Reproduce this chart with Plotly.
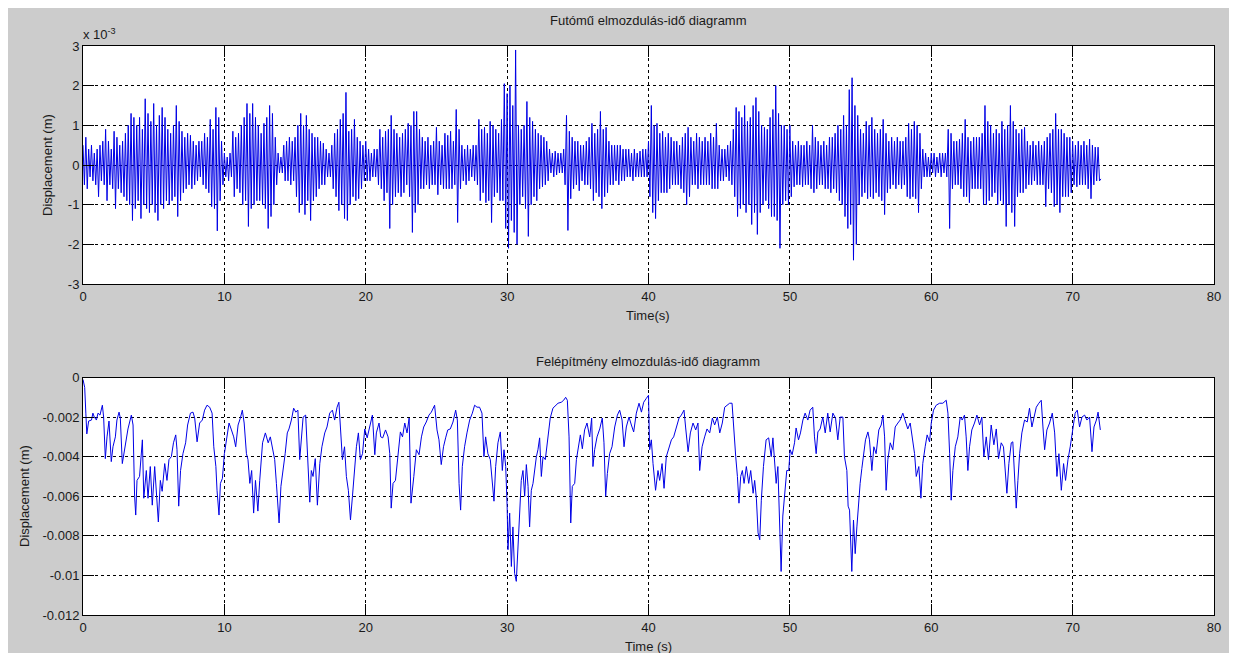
import plotly.graph_objects as go

# ---------------- DATA ----------------
top_disp_e3 = [
    0.5, -0.5, 0.7, -0.6, 0.4, -0.3, 0.5, -0.4, 0.3, -0.5,
    0.4, -0.8, 0.5, -0.4, 0.6, -0.5, 0.9, -0.9, 0.6, -0.5,
    0.4, -0.6, 0.85, -1.1, 0.7, -0.6, 0.5, -0.7, 0.6, -0.8,
    0.8, -0.9, 1.0, -1.0, 1.3, -1.4, 1.2, -1.1, 1.0, -0.9,
    1.2, -1.35, 0.9, -1.0, 1.67, -1.1, 1.3, -1.2, 1.1, -1.0,
    1.55, -1.2, 1.0, -1.4, 1.25, -1.0, 1.45, -1.1, 1.2, -0.9,
    0.9, -1.0, 0.8, -0.9, 1.0, -0.8, 1.5, -1.3, 1.1, -0.9,
    0.85, -0.7, 0.7, -0.6, 0.8, -0.5, 0.75, -0.6, 0.6, -0.5,
    0.5, -0.4, 0.6, -0.3, 0.6, -0.5, 0.8, -0.6, 0.7, -0.7,
    1.15, -1.05, 0.9, -1.1, 1.45, -1.66, 1.2, -0.9, 0.6, -0.5,
    0.3, -0.3, 0.2, -0.4, 0.3, -0.3, 0.85, -0.8, 0.7, -0.6,
    0.8, -0.7, 1.0, -1.0, 1.2, -0.9, 1.55, -1.55, 1.3, -1.1,
    1.55, -1.0, 1.2, -0.9, 1.0, -0.9, 0.8, -1.0, 1.05, -1.1,
    1.2, -1.6, 1.5, -1.3, 1.3, -1.0, 0.7, -0.5, 0.3, -0.2,
    0.2, -0.2, 0.5, -0.4, 0.6, -0.4, 0.7, -0.5, 0.6, -0.4,
    0.7, -0.8, 1.0, -1.2, 1.3, -1.0, 1.0, -1.25, 1.25, -0.9,
    0.9, -1.4, 0.8, -0.9, 0.7, -0.8, 0.7, -0.6, 0.6, -0.5,
    0.55, -0.5, 0.4, -0.3, 0.3, -0.3, 0.5, -0.6, 0.8, -0.8,
    0.9, -1.15, 1.15, -1.0, 1.3, -1.35, 1.83, -1.4, 0.85, -1.0,
    0.9, -0.8, 1.15, -0.9, 0.7, -0.85, 0.6, -0.6, 0.5, -0.4,
    0.6, -0.4, 0.4, -0.4, 0.3, -0.3, 0.4, -0.3, 0.4, -0.5,
    0.9, -0.6, 0.7, -0.9, 0.85, -0.7, 0.9, -1.6, 1.25, -1.0,
    0.9, -0.8, 0.8, -0.7, 0.7, -0.8, 0.8, -0.7, 0.9, -0.5,
    1.05, -0.8, 1.0, -1.7, 1.35, -1.2, 1.35, -1.0, 0.9, -0.6,
    0.7, -0.6, 0.6, -0.5, 0.7, -0.6, 0.5, -0.5, 0.6, -0.5,
    0.95, -0.75, 0.6, -0.5, 0.5, -0.6, 0.8, -0.6, 0.75, -0.6,
    0.85, -0.6, 0.6, -0.5, 1.4, -1.45, 0.9, -0.6, 0.5, -0.4,
    0.4, -0.5, 0.5, -0.4, 0.4, -0.3, 0.5, -0.4, 0.5, -0.5,
    1.15, -0.9, 0.9, -0.7, 0.95, -0.95, 0.8, -0.9, 1.1, -1.45,
    1.0, -0.8, 0.9, -0.7, 0.8, -0.9, 1.15, -0.9, 2.05, -1.6,
    1.8, -2.1, 2.0, -1.4, 1.5, -1.7, 2.9, -2.0, 1.0, -1.0,
    0.9, -0.8, 1.0, -1.1, 1.6, -1.8, 1.2, -1.0, 1.1, -0.8,
    0.9, -0.9, 0.8, -0.6, 0.75, -0.55, 0.7, -0.5, 0.6, -0.4,
    0.4, -0.2, 0.3, -0.3, 0.35, -0.25, 0.3, -0.2, 0.3, -0.2,
    0.4, -0.5, 1.25, -1.65, 0.85, -0.85, 0.7, -0.6, 0.6, -0.5,
    0.6, -0.65, 0.5, -0.4, 0.5, -0.5, 0.6, -0.5, 0.7, -0.6,
    1.05, -0.9, 0.8, -0.7, 0.9, -0.8, 1.35, -1.1, 0.9, -0.8,
    0.95, -0.7, 0.6, -0.5, 0.5, -0.5, 0.5, -0.4, 0.5, -0.5,
    0.5, -0.4, 0.4, -0.4, 0.4, -0.3, 0.4, -0.3, 0.3, -0.4,
    0.4, -0.3, 0.3, -0.3, 0.35, -0.3, 0.4, -0.3, 0.4, -0.3,
    0.6, -0.8, 1.5, -1.2, 1.0, -1.35, 1.05, -0.9, 0.8, -0.7,
    0.85, -0.7, 0.7, -0.7, 0.8, -0.6, 0.7, -0.5, 0.6, -0.5,
    0.6, -0.5, 0.5, -0.6, 0.7, -0.7, 0.8, -1.0, 0.95, -0.8,
    0.7, -0.5, 0.6, -0.5, 0.8, -0.6, 0.7, -0.5, 0.6, -0.5,
    0.7, -0.5, 0.6, -0.5, 0.8, -0.6, 0.7, -0.6, 1.05, -0.6,
    0.5, -0.4, 0.4, -0.4, 0.4, -0.3, 0.5, -0.4, 0.6, -0.5,
    0.9, -0.8, 1.45, -1.3, 1.35, -1.1, 1.2, -1.0, 1.5, -1.2,
    1.1, -1.0, 1.2, -1.5, 1.5, -1.2, 1.7, -1.75, 1.35, -1.2,
    1.0, -1.0, 0.95, -0.9, 0.9, -1.1, 1.2, -1.3, 1.4, -1.3,
    2.0, -1.4, 1.3, -2.1, 1.0, -1.0, 1.0, -0.9, 0.9, -1.0,
    1.0, -0.8, 0.6, -0.55, 0.5, -0.5, 0.6, -0.5, 0.5, -0.55,
    0.5, -0.5, 0.6, -0.5, 0.5, -0.6, 1.0, -0.7, 0.7, -0.6,
    0.6, -0.5, 0.5, -0.5, 0.6, -0.6, 0.5, -0.6, 0.7, -0.7,
    0.7, -0.6, 0.8, -0.7, 1.0, -0.9, 0.9, -1.0, 1.25, -1.3,
    1.0, -1.6, 1.9, -1.5, 2.2, -2.4, 1.5, -2.0, 1.25, -1.0,
    0.9, -0.8, 0.8, -0.7, 1.1, -0.85, 1.0, -0.8, 1.2, -0.85,
    0.9, -0.7, 0.8, -0.8, 0.9, -0.9, 1.15, -1.25, 0.8, -0.7,
    0.6, -0.6, 0.7, -0.5, 0.6, -0.6, 0.7, -0.5, 0.6, -0.6,
    0.6, -0.5, 0.7, -0.8, 1.05, -0.85, 0.9, -0.8, 1.1, -0.85,
    1.0, -1.2, 0.8, -0.6, 0.4, -0.3, 0.3, -0.3, 0.2, -0.3,
    0.3, -0.2, 0.3, -0.3, 0.2, -0.2, 0.3, -0.3, 0.3, -0.2,
    0.3, -0.3, 0.9, -1.6, 0.8, -0.6, 0.6, -0.5, 0.6, -0.5,
    0.65, -0.6, 0.8, -0.8, 1.15, -0.8, 0.7, -0.95, 0.6, -0.6,
    0.7, -0.6, 0.7, -0.6, 0.7, -0.6, 0.8, -1.0, 1.5, -1.0,
    1.1, -0.9, 1.0, -0.8, 0.8, -0.7, 0.9, -1.0, 0.8, -0.9,
    1.1, -1.0, 0.9, -1.55, 1.0, -1.0, 1.5, -1.2, 1.1, -1.55,
    0.9, -0.8, 0.8, -0.7, 0.9, -0.7, 0.95, -0.6, 0.6, -0.5,
    0.5, -0.5, 0.6, -0.4, 0.5, -0.5, 0.6, -0.5, 0.5, -0.5,
    0.6, -1.05, 0.7, -0.6, 0.8, -0.7, 0.9, -1.05, 1.3, -1.0,
    0.9, -1.2, 0.9, -0.8, 0.8, -0.8, 0.7, -0.8, 0.7, -0.7,
    0.6, -0.5, 0.5, -0.55, 0.6, -0.5, 0.5, -0.5, 0.6, -0.5,
    0.5, -0.6, 0.65, -0.85, 0.5, -0.5, 0.45, -0.4, 0.45, -0.4,
    -0.35,
]
top_time = [round(i * 0.1, 1) for i in range(len(top_disp_e3))]

# Bottom: body (felépítmény) displacement, units of 1e-3 m
bottom_time = [
    0.0, 0.12, 0.2, 0.27, 0.4, 0.6, 0.7, 0.8, 0.95, 1.06, 1.2, 1.37, 1.46, 1.58, 1.7, 1.84,
    2.0, 2.12, 2.29, 2.4, 2.55, 2.64, 2.78, 2.95, 3.18, 3.42, 3.54, 3.65, 3.73, 3.82,
    4.0, 4.2, 4.3, 4.48, 4.6, 4.76, 4.9, 5.07, 5.19, 5.33, 5.47, 5.6, 5.78, 5.94,
    6.08, 6.25, 6.4, 6.56, 6.65, 6.77, 6.9, 7.07, 7.26, 7.4, 7.6, 7.78, 7.9,
    8.07, 8.25, 8.44, 8.6, 8.77, 8.96, 9.13, 9.25, 9.4, 9.48, 9.62, 9.72, 9.86,
    10.0, 10.14, 10.33, 10.5, 10.66, 10.8, 10.97, 11.13, 11.27, 11.4, 11.56, 11.67, 11.8, 11.93,
    12.07, 12.2, 12.37, 12.5, 12.7, 12.9, 13.1, 13.25, 13.4, 13.56, 13.68, 13.87,
    14.0, 14.15, 14.3, 14.45, 14.57, 14.74, 14.9, 15.05, 15.2, 15.33, 15.45, 15.57, 15.75, 15.9,
    16.04, 16.15, 16.27, 16.43, 16.58, 16.75, 16.9, 17.1, 17.26, 17.45, 17.64, 17.8, 17.97,
    18.1, 18.2, 18.35, 18.5, 18.63, 18.77, 18.92, 19.06, 19.2, 19.34, 19.48, 19.62, 19.77, 19.93,
    20.1, 20.28, 20.47, 20.64, 20.75, 20.94, 21.06, 21.2, 21.4, 21.58, 21.7, 21.8, 21.93,
    22.1, 22.3, 22.45, 22.6, 22.76, 22.92, 23.07, 23.2, 23.3, 23.4, 23.58, 23.77, 23.94,
    24.1, 24.28, 24.47, 24.64, 24.87, 25.04, 25.18, 25.34, 25.5, 25.65, 25.8, 25.98,
    26.17, 26.36, 26.48, 26.6, 26.71, 26.83, 26.99, 27.16, 27.35, 27.54, 27.7, 27.87,
    28.05, 28.22, 28.36, 28.48, 28.64, 28.81, 28.95, 29.07, 29.19, 29.35, 29.52, 29.66, 29.78, 29.9,
    30.0, 30.06, 30.18, 30.3, 30.41, 30.53, 30.65, 30.77, 30.89, 31.0, 31.12, 31.24, 31.36, 31.48,
    31.59, 31.71, 31.83, 31.95, 32.07, 32.18, 32.3, 32.42, 32.54, 32.7, 32.89,
    33.05, 33.24, 33.43, 33.6, 33.83, 34.0, 34.14, 34.26, 34.38, 34.5, 34.61, 34.78, 34.9,
    35.01, 35.18, 35.32, 35.48, 35.65, 35.84, 35.98, 36.07, 36.19, 36.36, 36.55, 36.73, 36.85, 36.97,
    37.09, 37.25, 37.42, 37.61, 37.8, 37.96, 38.13, 38.27, 38.43, 38.62, 38.79, 38.95,
    39.14, 39.33, 39.5, 39.66, 39.85, 40.0, 40.08, 40.2, 40.32, 40.5, 40.67, 40.79, 40.96,
    41.1, 41.26, 41.43, 41.62, 41.78, 41.97, 42.16, 42.32, 42.51, 42.63, 42.8, 42.96,
    43.15, 43.34, 43.5, 43.62, 43.79, 43.97, 44.14, 44.33, 44.52, 44.68, 44.87,
    45.04, 45.22, 45.39, 45.55, 45.74, 45.91, 46.05, 46.17, 46.29, 46.4, 46.52, 46.64, 46.76, 46.92,
    47.09, 47.23, 47.4, 47.51, 47.63, 47.75, 47.87, 47.98, 48.13, 48.32, 48.5, 48.68, 48.8, 48.9,
    49.03, 49.15, 49.26, 49.38, 49.5, 49.64, 49.78, 49.92, 50.02, 50.16, 50.33, 50.44, 50.61, 50.75, 50.92,
    51.08, 51.27, 51.43, 51.62, 51.74, 51.86, 51.98, 52.14, 52.33, 52.5, 52.68, 52.85,
    53.04, 53.23, 53.39, 53.56, 53.75, 53.86, 54.03, 54.12, 54.22, 54.31, 54.38, 54.5, 54.62, 54.74, 54.85, 54.97,
    55.09, 55.21, 55.35, 55.52, 55.63, 55.8, 55.94, 56.1, 56.29, 56.46, 56.58, 56.7, 56.81, 56.93,
    57.1, 57.28, 57.45, 57.64, 57.8, 57.99, 58.16, 58.34, 58.51, 58.65, 58.82, 58.94,
    59.12, 59.27, 59.4, 59.57, 59.71, 59.88, 60.0, 60.16, 60.35, 60.59, 60.82,
    61.06, 61.18, 61.3, 61.41, 61.53, 61.7, 61.88, 62.05, 62.19, 62.35, 62.47, 62.59, 62.71, 62.87,
    63.06, 63.23, 63.42, 63.58, 63.72, 63.89, 64.05, 64.24, 64.43, 64.6, 64.76, 64.95,
    65.11, 65.23, 65.35, 65.49, 65.66, 65.77, 65.89, 66.01, 66.13, 66.25, 66.41, 66.6, 66.79, 66.95,
    67.12, 67.26, 67.43, 67.61, 67.78, 67.9, 68.02, 68.18, 68.37, 68.56, 68.73, 68.89,
    69.03, 69.2, 69.36, 69.5, 69.67, 69.83, 70.02, 70.18, 70.33, 70.49, 70.66, 70.85,
    71.01, 71.2, 71.37, 71.51, 71.68, 71.8, 71.96,
]
bottom_disp_e3 = [
    -0.1, -0.5, -1.8, -2.85, -2.2, -2.15, -1.8, -2.0, -2.15, -1.8, -1.9, -1.4, -2.0, -4.1, -3.0, -2.2,
    -4.25, -3.5, -3.0, -2.15, -1.75, -2.05, -4.35, -3.5, -2.6, -1.9, -2.4, -6.0, -6.95, -5.2,
    -5.0, -3.15, -6.1, -4.7, -6.1, -4.5, -6.45, -4.5, -5.75, -7.3, -5.2, -5.75, -4.35, -5.2,
    -4.15, -4.0, -3.3, -2.9, -3.65, -6.5, -4.7, -3.85, -3.3, -2.4, -1.8, -1.75, -2.05,
    -3.25, -2.3, -2.15, -1.65, -1.4, -1.5, -1.8, -3.5, -4.5, -5.7, -6.95, -5.35, -5.1,
    -3.85, -3.15, -2.3, -2.65, -3.0, -3.5, -2.4, -2.05, -1.65, -2.3, -3.85, -4.15, -5.35, -4.7,
    -6.85, -5.2, -6.75, -5.2, -3.3, -2.8, -3.3, -3.0, -3.6, -4.15, -5.35, -7.35,
    -5.5, -4.7, -3.85, -2.8, -2.6, -2.15, -1.55, -1.75, -1.65, -4.15, -3.0, -2.0, -1.9, -3.85,
    -6.3, -4.7, -5.0, -4.1, -6.45, -4.35, -3.5, -2.8, -2.5, -1.8, -1.65, -2.15, -1.5,
    -1.25, -2.65, -4.15, -3.5, -5.0, -5.7, -7.2, -6.0, -4.7, -3.5, -2.8, -4.15, -3.85, -2.6,
    -3.05, -2.5, -1.9, -3.9, -2.8, -2.3, -3.0, -3.05, -2.65, -3.0, -3.85, -6.6, -5.35,
    -5.2, -3.65, -2.75, -3.0, -2.3, -2.8, -2.05, -6.35, -5.5, -5.0, -3.65, -3.9, -3.0,
    -2.5, -2.25, -1.9, -1.75, -1.4, -2.65, -3.15, -4.4, -3.5, -3.05, -2.65, -2.6,
    -2.25, -1.65, -2.15, -5.35, -6.7, -4.5, -3.5, -2.8, -2.15, -1.8, -1.4, -1.5,
    -1.5, -1.8, -4.0, -3.0, -3.85, -4.15, -5.2, -6.25, -4.5, -3.3, -2.75, -4.7, -3.65, -4.5,
    -6.5, -8.7, -6.85, -9.55, -7.55, -9.9, -10.3, -8.35, -6.5, -5.2, -4.7, -6.0, -4.4, -5.5,
    -7.55, -5.7, -5.35, -4.5, -4.0, -3.65, -3.05, -5.0, -4.0, -4.15, -3.0,
    -2.05, -1.55, -1.4, -1.3, -1.25, -1.15, -1.0, -1.15, -3.0, -7.35, -5.5, -5.35, -4.15,
    -3.65, -2.9, -3.6, -2.65, -2.3, -3.0, -2.05, -4.5, -3.65, -3.0, -2.6, -2.05, -3.3, -6.0,
    -4.85, -3.85, -3.5, -2.5, -1.9, -1.65, -2.15, -3.5, -2.5, -2.0, -2.4, -2.75,
    -1.8, -1.3, -1.75, -1.25, -1.05, -0.9, -3.65, -3.15, -4.35, -5.7, -4.7, -5.2, -4.35,
    -5.6, -4.0, -3.65, -3.15, -3.0, -2.5, -2.05, -1.9, -1.65, -2.55, -3.75, -2.8,
    -2.3, -2.65, -2.3, -4.7, -3.5, -3.0, -2.6, -2.8, -2.05, -2.4, -2.0,
    -2.8, -2.3, -1.5, -1.4, -1.3, -1.3, -3.0, -4.0, -5.0, -6.35, -5.0, -4.7, -5.35, -4.5,
    -5.35, -4.7, -5.85, -5.2, -6.1, -7.85, -8.2, -6.2, -4.5, -3.15, -3.05, -4.0, -3.05, -4.0,
    -5.35, -4.5, -7.0, -9.8, -7.0, -5.85, -4.7, -4.7, -3.65, -3.9, -3.3, -2.55, -3.15, -2.8, -2.15,
    -1.8, -2.15, -1.65, -1.5, -3.0, -3.85, -2.75, -2.6, -2.0, -2.8, -1.8, -2.75,
    -1.8, -2.05, -3.15, -2.0, -2.0, -4.0, -4.7, -6.5, -6.7, -9.05, -9.8, -7.2, -8.9, -7.55, -6.35, -5.35,
    -4.6, -4.0, -3.15, -2.75, -3.15, -4.7, -3.5, -3.85, -2.65, -2.4, -1.9, -3.0, -5.7, -4.15,
    -3.3, -3.65, -2.5, -2.3, -2.15, -1.8, -2.15, -2.6, -2.3, -3.05, -3.85, -5.0,
    -4.5, -6.1, -4.35, -3.5, -2.9, -3.25, -2.3, -1.65, -1.4, -1.3, -1.3,
    -1.15, -1.8, -3.85, -6.2, -4.7, -3.5, -3.0, -2.0, -2.15, -1.9, -3.0, -4.7, -3.5, -2.65,
    -2.3, -1.9, -2.4, -2.0, -4.0, -3.0, -4.15, -2.4, -3.4, -2.6, -4.1, -3.3,
    -3.5, -4.5, -5.85, -4.35, -3.3, -3.25, -4.7, -6.6, -5.2, -3.85, -2.8, -2.15, -2.25, -1.55,
    -2.5, -2.0, -1.5, -1.3, -1.15, -2.5, -3.65, -2.65, -2.3, -1.8, -2.8, -5.0,
    -3.85, -5.7, -4.35, -5.2, -4.15, -3.5, -2.65, -1.8, -1.65, -2.5, -2.0, -1.9,
    -2.15, -2.0, -3.75, -2.5, -2.15, -1.75, -2.65,
]

x_ticks = [0, 10, 20, 30, 40, 50, 60, 70, 80]
top_yticks = [3, 2, 1, 0, -1, -2, -3]
top_yticktext = ["3", "2", "1", "0", "-1", "-2", "-3"]
bottom_yticks = [0, -0.002, -0.004, -0.006, -0.008, -0.010, -0.012]
bottom_yticktext = ["0", "-0.002", "-0.004", "-0.006", "-0.008", "-0.01", "-0.012"]

title_top = "Futómű elmozdulás-idő diagramm"
title_bottom = "Felépítmény elmozdulás-idő diagramm"

# ---------------- FIGURE ----------------
W, H = 1237, 653
L, R, T, B = 75, 31, 38, 46
plot_w = W - L - R
plot_h = H - T - B

def px_to_paper(px, py):
    return (px - L) / plot_w, (H - B - py) / plot_h

top_dom = [1 - (276 - T) / plot_h, 1.0]
bot_dom = [0.0, (H - B - 369.5) / plot_h]

FONT = "Liberation Sans, Arial, Helvetica, sans-serif"
TXT = "#1a1a1a"
LINE_COLOR = "#0000e6"

fig = go.Figure()
fig.add_trace(go.Scatter(x=top_time, y=top_disp_e3, mode="lines",
                         line=dict(color=LINE_COLOR, width=1), xaxis="x", yaxis="y",
                         showlegend=False, hoverinfo="skip"))
fig.add_trace(go.Scatter(x=bottom_time, y=[v * 1e-3 for v in bottom_disp_e3], mode="lines",
                         line=dict(color=LINE_COLOR, width=1), xaxis="x2", yaxis="y2",
                         showlegend=False, hoverinfo="skip"))

axis_common = dict(
    showline=True, linecolor="black", linewidth=1, mirror="allticks",
    ticks="inside", ticklen=11, tickwidth=1, tickcolor="black",
    showgrid=True, gridcolor="black", gridwidth=1, griddash="3px,3px",
    zeroline=False, tickfont=dict(family=FONT, size=13, color=TXT),
)

fig.update_layout(
    width=W, height=H,
    margin=dict(l=L, r=R, t=T, b=B),
    paper_bgcolor="#cccccc", plot_bgcolor="white",
    xaxis=dict(domain=[0, 1], range=[0, 80], tickvals=x_ticks, anchor="y", **axis_common),
    yaxis=dict(domain=top_dom, range=[-3, 3], tickvals=top_yticks, ticktext=top_yticktext,
               anchor="x", **axis_common),
    xaxis2=dict(domain=[0, 1], range=[0, 80], tickvals=x_ticks, anchor="y2", **axis_common),
    yaxis2=dict(domain=bot_dom, range=[-0.012, 0], tickvals=bottom_yticks,
                ticktext=bottom_yticktext, anchor="x2", **axis_common),
)

def ann(text, px, py, angle=0, xanchor="center", size=13):
    x, y = px_to_paper(px, py)
    return dict(text=text, x=x, y=y, xref="paper", yref="paper", showarrow=False,
                xanchor=xanchor, yanchor="middle", textangle=angle,
                font=dict(family=FONT, size=size, color=TXT))

fig.update_layout(annotations=[
    ann(title_top, 640, 13),
    ann(title_bottom, 640, 353),
    ann("Time(s)", 640, 307),
    ann("Time (s)", 640, 638),
    ann("Displacement (m)", 39, 157, angle=-90),
    ann("Displacement (m)", 16, 488, angle=-90),
    ann("x 10<sup>-3</sup>", 73, 26, xanchor="left"),
])

fig.write_html("out.html")
